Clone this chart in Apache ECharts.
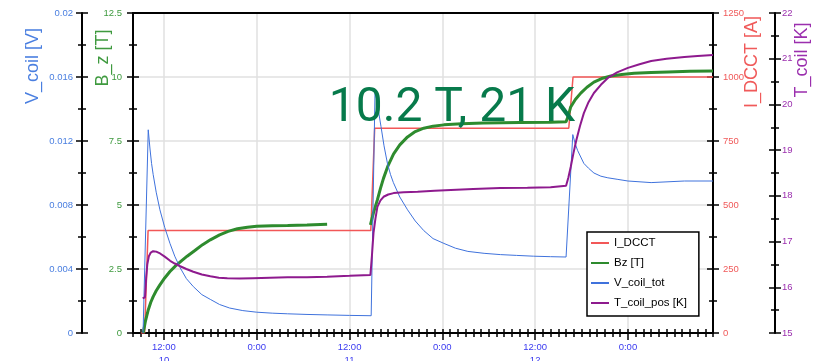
<!DOCTYPE html>
<html><head><meta charset="utf-8">
<script src="https://cdn.jsdelivr.net/npm/echarts@6/dist/echarts.min.js"></script>
<style>html,body{margin:0;padding:0;background:#fff}#c{width:821px;height:361px}</style>
</head><body><div id="c"></div>
<script>
// time in hours since 0:00 of day 10
const xTickHours = [12, 24, 36, 48, 60, 72];
const xTickLabels = ['12:00\n10', '0:00', '12:00\n11', '0:00', '12:00\n12', '0:00'];
const xMin = 8, xMax = 83;

const iDcct = [[9.0,0],[9.5,0],[9.95,400],[38.75,400],[39.25,800],[64.35,800],[64.9,1000],[83,1000]];
const bz = [[9.32,0],[9.6,0.45],[9.97,0.9],[10.3,1.2],[10.61,1.42],[11.0,1.65],[11.48,1.88],[12.1,2.15],[12.78,2.4],[13.5,2.62],[14.3,2.83],[15.0,3.0],[16.0,3.22],[17.0,3.45],[18.0,3.64],[19.2,3.83],[20.3,3.97],[21.5,4.07],[22.8,4.13],[24.0,4.17],[26.0,4.19],[28.0,4.2],[30.5,4.22],[33.1,4.25],
            [35,'-'],
            [38.7,4.22],[39.1,4.7],[39.6,5.2],[40.0,5.65],[40.4,6.05],[41.0,6.55],[41.7,7.0],[42.5,7.35],[43.5,7.66],[44.5,7.87],[45.6,8.0],[46.8,8.08],[48.2,8.13],[50.5,8.17],[53.3,8.2],[58,8.22],[62,8.23],[64.0,8.25],
            [64.3,8.5],[64.6,8.83],[65.2,9.12],[65.9,9.37],[66.7,9.6],[67.6,9.8],[68.6,9.94],[69.8,10.04],[71.2,10.1],[72.8,10.15],[75,10.18],[77.2,10.2],[80,10.22],[83,10.23]];
const vCoil = [[9.3,0],[9.97,0.0127],[10.2,0.0115],[10.4,0.0106],[10.61,0.0099],[11.0,0.0088],[11.48,0.0077],[12.1,0.0066],[12.78,0.0056],[13.4,0.0048],[14.07,0.0041],[14.9,0.0034],[15.8,0.0029],[16.9,0.0024],[18.0,0.0021],[19.2,0.00178],[20.5,0.00156],[22.2,0.0014],[24.0,0.0013],[26,0.00124],[28.0,0.0012],[30.5,0.00116],[33.1,0.00113],[36,0.0011],[38.8,0.00108],
               [39.3,0.0152],[39.7,0.0140],[40.07,0.0129],[40.46,0.0117],[40.9,0.0106],[41.3,0.0099],[41.67,0.0094],[42.5,0.0085],[43.5,0.0077],[44.5,0.0070],[45.6,0.0064],[46.8,0.0059],[48.2,0.0056],[49.7,0.0053],[51.3,0.0051],[53.4,0.00498],[55.5,0.0049],[57.6,0.00485],[59.8,0.0048],[62,0.00477],[64.0,0.00475],
               [64.87,0.0124],[65.2,0.0118],[65.5,0.0114],[65.9,0.0110],[66.3,0.0106],[66.9,0.0103],[67.6,0.0100],[68.5,0.0098],[69.4,0.0097],[70.7,0.0096],[72.0,0.0095],[75.0,0.0094],[79.3,0.0095],[83,0.0095]];
const tCoil = [[9.25,15.76],[9.55,15.78],[9.7,16.2],[9.85,16.5],[10.05,16.68],[10.3,16.76],[10.6,16.79],[11.0,16.78],[11.5,16.74],[12.1,16.67],[12.8,16.58],[13.4,16.52],[14.1,16.46],[14.9,16.4],[15.8,16.34],[16.9,16.28],[18.0,16.24],[19.1,16.21],[20.2,16.2],[21.8,16.19],[23.5,16.2],[25.7,16.21],[28.0,16.22],[30.5,16.22],[33.1,16.23],[36,16.25],[38.7,16.27],
               [38.9,16.7],[39.1,17.19],[39.35,17.5],[39.6,17.76],[40.0,17.9],[40.4,17.98],[41.0,18.03],[41.7,18.06],[43.0,18.08],[44.8,18.09],[47,18.11],[49.1,18.13],[52,18.15],[55.5,18.17],[59,18.18],[62,18.19],[64.0,18.22],
               [64.3,18.4],[64.6,18.63],[64.95,18.93],[65.3,19.2],[65.8,19.53],[66.3,19.81],[66.9,20.05],[67.6,20.25],[68.5,20.43],[69.4,20.58],[70.6,20.7],[72.0,20.8],[73.5,20.88],[75.0,20.95],[77,21.0],[79.3,21.04],[81,21.06],[83,21.08]];

const hourTicks = [];
for (let h = xMin; h <= xMax; h++) hourTicks.push(h);

const C_BLUE = '#3f72dc', C_GREEN = '#2e8b2e', C_RED = '#f25757', C_PURPLE = '#8e1a8e';
const LBL_BLUE = '#4a7fe0', LBL_GREEN = '#3f9a3f', LBL_RED = '#f05a5a', LBL_PURPLE = '#9b2fae';
const FONT = 'Liberation Sans';

function yAx(pos, offset, min, max, interval, color, margin, fmt) {
  const main = {
    type: 'value', position: pos, offset: offset, min: min, max: max, interval: interval,
    axisLine: {show: true, onZero: false, lineStyle: {color: '#000', width: 2}},
    axisTick: {show: true, inside: false, length: 6, lineStyle: {color: '#000', width: 1.5}},
    minorTick: {show: true, splitNumber: 2, length: 4, lineStyle: {color: '#000', width: 1.5}},
    axisLabel: {color: color, fontSize: 9.5, fontFamily: FONT, margin: margin, formatter: fmt},
    splitLine: {show: false}
  };
  const twin = {
    type: 'value', position: pos, offset: offset, min: min, max: max, interval: interval,
    axisLine: {show: false, onZero: false},
    axisTick: {show: true, inside: true, length: 6, lineStyle: {color: '#000', width: 1.5}},
    minorTick: {show: true, splitNumber: 2, length: 4, lineStyle: {color: '#000', width: 1.5}},
    axisLabel: {show: false}, splitLine: {show: false}
  };
  return [main, twin];
}

const yAxes = [].concat(
  yAx('left', 51, 0, 0.02, 0.004, LBL_BLUE, 9, v => String(+v.toFixed(3))),
  yAx('left', 0, 0, 12.5, 2.5, LBL_GREEN, 11, v => String(v)),
  yAx('right', 0, 0, 1250, 250, LBL_RED, 10, v => String(v)),
  yAx('right', 62, 15, 22, 1, LBL_PURPLE, 7, v => String(v))
);
yAxes[2].splitLine = {show: true, lineStyle: {color: '#e0e0e0', width: 1.5}};

const chart = echarts.init(document.getElementById('c'), null, {renderer: 'canvas'});
chart.setOption({
  animation: false,
  backgroundColor: '#fff',
  grid: {left: 133, right: 108, top: 13, bottom: 28, containLabel: false, outerBoundsMode: 'none'},
  xAxis: [
    {type: 'value', position: 'bottom', min: xMin, max: xMax,
     axisLine: {show: true, onZero: false, lineStyle: {color: '#000', width: 2}},
     axisTick: {show: true, customValues: xTickHours, length: 7, lineStyle: {color: '#000', width: 1.5}},
     axisLabel: {show: true, customValues: xTickHours, color: '#3a3af0', fontSize: 9.5, fontFamily: FONT, lineHeight: 13, margin: 8,
                 formatter: v => xTickLabels[xTickHours.indexOf(v)] || ''},
     splitLine: {show: true, lineStyle: {color: '#e0e0e0', width: 1.5}}},
    {type: 'value', position: 'bottom', min: xMin, max: xMax,
     axisLine: {show: false, onZero: false},
     axisTick: {show: true, customValues: hourTicks, inside: false, length: 4, lineStyle: {color: '#000', width: 1.5}},
     axisLabel: {show: false}, splitLine: {show: false}},
    {type: 'value', position: 'bottom', min: xMin, max: xMax,
     axisLine: {show: false, onZero: false},
     axisTick: {show: true, customValues: hourTicks, inside: true, length: 4, lineStyle: {color: '#000', width: 1.5}},
     axisLabel: {show: false}, splitLine: {show: false}},
    {type: 'value', position: 'top', min: xMin, max: xMax,
     axisLine: {show: true, onZero: false, lineStyle: {color: '#000', width: 2}},
     axisTick: {show: false}, axisLabel: {show: false}, splitLine: {show: false}}
  ],
  yAxis: yAxes,
  legend: {
    orient: 'vertical', left: 587, top: 232, padding: [5, 12, 7, 3], itemGap: 8, itemWidth: 18, itemHeight: 14,
    borderColor: '#000', borderWidth: 1.5, backgroundColor: '#fff', z: 20,
    itemStyle: {opacity: 0},
    textStyle: {fontFamily: FONT, fontSize: 11.5, color: '#000'},
    data: ['I_DCCT', 'Bz [T]', 'V_coil_tot', 'T_coil_pos [K]']
  },
  series: [
    {name: 'I_DCCT', type: 'line', xAxisIndex: 0, yAxisIndex: 4, data: iDcct, showSymbol: false, symbol: 'none',
     lineStyle: {color: C_RED, width: 1.5}, itemStyle: {color: C_RED}},
    {name: 'Bz [T]', type: 'line', xAxisIndex: 0, yAxisIndex: 2, data: bz, showSymbol: false, symbol: 'none', connectNulls: false,
     lineStyle: {color: C_GREEN, width: 3}, itemStyle: {color: C_GREEN}},
    {name: 'V_coil_tot', type: 'line', xAxisIndex: 0, yAxisIndex: 0, data: vCoil, showSymbol: false, symbol: 'none',
     lineStyle: {color: C_BLUE, width: 1}, itemStyle: {color: C_BLUE}},
    {name: 'T_coil_pos [K]', type: 'line', xAxisIndex: 0, yAxisIndex: 6, data: tCoil, showSymbol: false, symbol: 'none',
     lineStyle: {color: C_PURPLE, width: 2}, itemStyle: {color: C_PURPLE}}
  ],
  graphic: [
    {type: 'text', x: 452, y: 109, z: 100,
     style: {text: '10.2 T, 21 K', font: '48px Roboto', fill: '#077a4b', align: 'center', verticalAlign: 'middle', textAlign: 'center', textVerticalAlign: 'middle'}},
    {type: 'text', x: 33, y: 66, rotation: Math.PI / 2,
     style: {text: 'V_coil [V]', font: '18px "Liberation Sans"', fill: LBL_BLUE, align: 'center', verticalAlign: 'middle'}},
    {type: 'text', x: 103, y: 58, rotation: Math.PI / 2,
     style: {text: 'B_z [T]', font: '18px "Liberation Sans"', fill: LBL_GREEN, align: 'center', verticalAlign: 'middle'}},
    {type: 'text', x: 752, y: 62, rotation: Math.PI / 2,
     style: {text: 'I_DCCT [A]', font: '18px "Liberation Sans"', fill: LBL_RED, align: 'center', verticalAlign: 'middle'}},
    {type: 'text', x: 802, y: 60, rotation: Math.PI / 2,
     style: {text: 'T_coil [K]', font: '18px "Liberation Sans"', fill: LBL_PURPLE, align: 'center', verticalAlign: 'middle'}}
  ]
});
</script></body></html>
